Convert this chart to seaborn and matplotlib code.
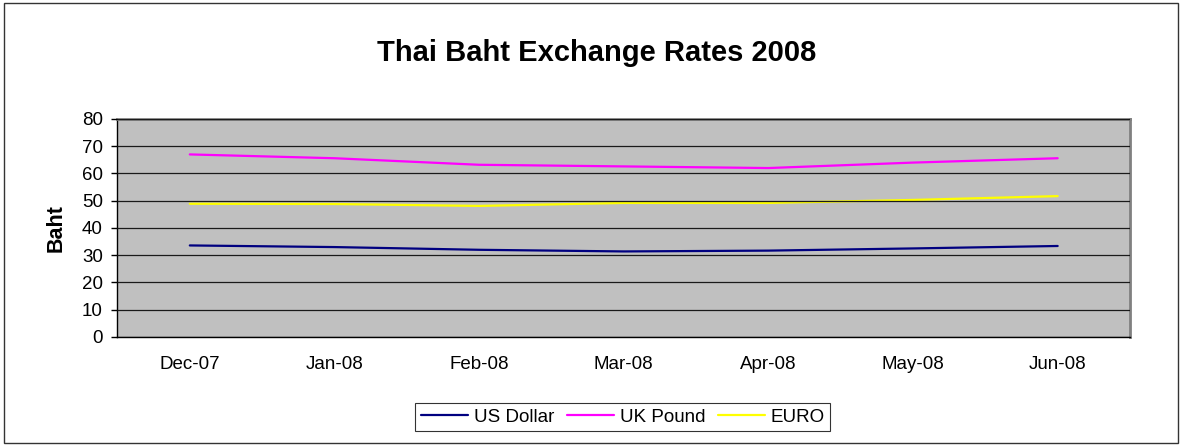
import pandas as pd
import matplotlib
matplotlib.use("Agg")
import matplotlib.pyplot as plt
import seaborn as sns
from matplotlib.patches import Rectangle

months = ["Dec-07", "Jan-08", "Feb-08", "Mar-08", "Apr-08", "May-08", "Jun-08"]
us_dollar = [33.6, 33.0, 32.0, 31.4, 31.7, 32.5, 33.4]
uk_pound = [67.0, 65.6, 63.2, 62.6, 62.0, 64.0, 65.6]
euro = [48.9, 48.8, 48.1, 49.2, 49.2, 50.3, 51.7]

series_names = ["US Dollar", "UK Pound", "EURO"]
series_colors = ["#000080", "#FF00FF", "#FFFF00"]

df = pd.concat([
    pd.DataFrame({"Month": months, "Baht": vals, "Currency": name})
    for name, vals in zip(series_names, [us_dollar, uk_pound, euro])
])
df["pos"] = df["Month"].map({m: i for i, m in enumerate(months)})

sns.set_style("white")
plt.rcParams["font.family"] = ["Liberation Sans", "DejaVu Sans"]
plt.rcParams["text.color"] = "black"
plt.rcParams["axes.labelcolor"] = "black"
plt.rcParams["xtick.color"] = "black"
plt.rcParams["ytick.color"] = "black"

fig = plt.figure(figsize=(11.82, 4.45), dpi=100)
ax = fig.add_axes([0.0994, 0.2427, 0.8566, 0.4899])
ax.set_facecolor("#C0C0C0")

sns.lineplot(data=df, x="pos", y="Baht", hue="Currency",
             palette=dict(zip(series_names, series_colors)),
             linewidth=1.6, ax=ax, legend=False)

# axes scale
ax.set_xlim(-0.5, len(months) - 0.5)
ax.set_ylim(0, 80)
ax.set_yticks(range(0, 81, 10))
ax.set_xticks(range(len(months)))
ax.set_xticklabels(months)
ax.set_xticks([i - 0.5 for i in range(len(months) + 1)], minor=True)
ax.tick_params(axis="x", which="major", length=0, pad=14, labelsize=13.5)
ax.tick_params(axis="x", which="minor", length=4.5, width=1, direction="out")
ax.tick_params(axis="y", length=4.5, width=1, direction="out", left=True, pad=6, labelsize=13.5)
ax.yaxis.grid(True, color="#1a1a1a", linewidth=0.9)
ax.set_axisbelow(False)
for line in ax.get_ygridlines():
    line.set_zorder(1)

ax.set_xlabel("")
ax.set_ylabel("Baht", fontsize=15.5, fontweight="bold", labelpad=11)

for side in ["top", "right"]:
    ax.spines[side].set_color("#808080")
    ax.spines[side].set_linewidth(2)
for side in ["left", "bottom"]:
    ax.spines[side].set_color("black")
    ax.spines[side].set_linewidth(1)

fig.text(0.505, 0.88, "Thai Baht Exchange Rates 2008", ha="center", va="center",
         fontsize=21, fontweight="bold")

handles = [plt.Line2D([0], [0], color=c, linewidth=1.6) for c in series_colors]
leg = fig.legend(handles, series_names, loc="center", bbox_to_anchor=(0.527, 0.063),
                 ncol=3, frameon=True, fancybox=False, fontsize=13.5,
                 handlelength=2.5, handletextpad=0.3, columnspacing=0.7,
                 borderpad=0.3, borderaxespad=0, edgecolor="black")
leg.get_frame().set_linewidth(0.8)

fig.patches.append(Rectangle((0.0035, 0.004), 0.993, 0.99, transform=fig.transFigure,
                             fill=False, edgecolor="#333333", linewidth=1))

fig.savefig("out.png", dpi=100)
